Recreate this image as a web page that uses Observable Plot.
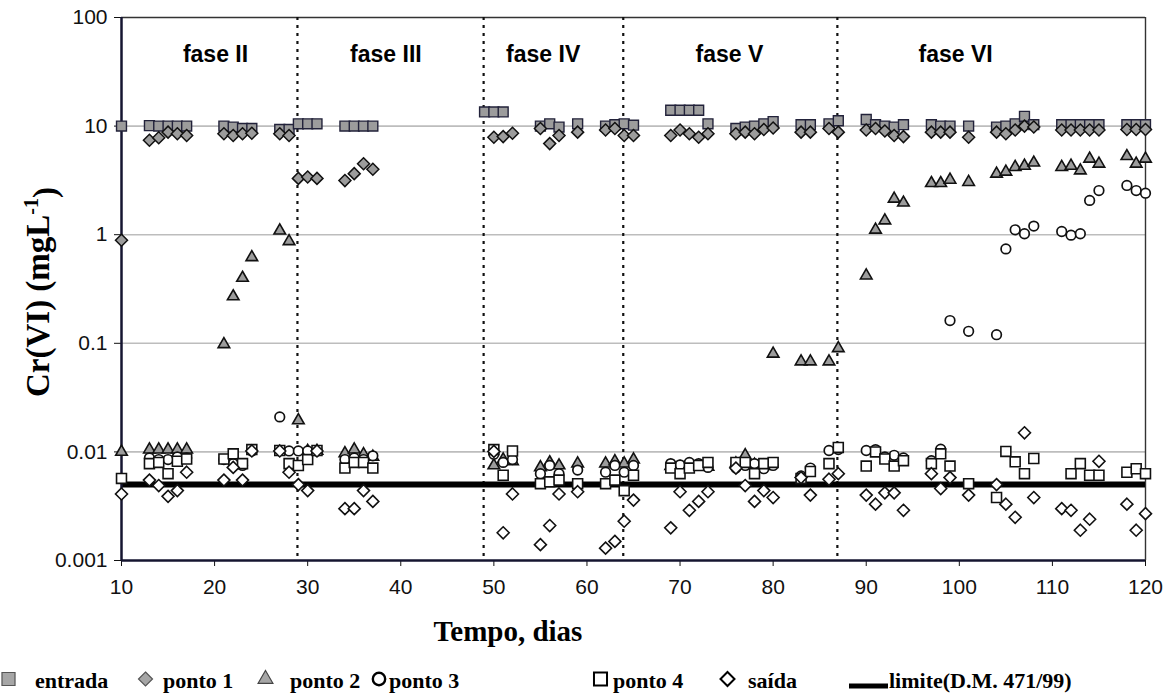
<!DOCTYPE html>
<html><head><meta charset="utf-8">
<script src="https://cdn.jsdelivr.net/npm/d3@7"></script>
<script src="https://cdn.jsdelivr.net/npm/@observablehq/plot@0.6"></script>
<style>
body{margin:0;background:#fff;}
#wrap{position:relative;width:1171px;height:697px;overflow:hidden;background:#fff;}
#chart{position:absolute;left:0;top:0;}
#legend{position:absolute;left:0;top:655px;}
</style></head>
<body><div id="wrap"><div id="chart"></div><svg id="legend" width="1171" height="42"></svg></div>
<script>
// ---- data ----
const entradaDays = [10,13,14,15,16,17,21,22,23,24,27,28,29,30,31,34,35,36,37,49,50,51,55,56,57,59,62,63,64,65,69,70,71,72,73,76,77,78,79,80,83,84,86,87,90,91,92,93,94,97,98,99,101,104,105,106,107,108,111,112,113,114,115,118,119,120];
const entradaValues = [10,10.1,10,10,10,10,10,9.8,9.5,9.5,9.3,9.3,10.5,10.5,10.5,10,10,10,10,13.5,13.5,13.5,10,10.5,9.8,10.5,10,10.3,10.5,10.2,14,14,14,14,10.5,9.5,9.8,10,10.5,11,10.3,10.3,10.5,11.2,11.5,10.3,10,9.8,10.3,10.3,10,10,10,9.8,10,10.5,12.3,10.3,10.3,10.3,10.3,10.3,10.3,10.3,10.3,10.3];

const ponto1Days = [10,13,14,15,16,17,21,22,23,24,27,28,29,30,31,34,35,36,37,50,51,52,55,56,57,59,62,63,64,65,69,70,71,72,73,76,77,78,79,80,83,84,86,87,90,91,92,93,94,97,98,99,101,104,105,106,107,108,111,112,113,114,115,118,119,120];
const ponto1Values = [0.89,7.4,7.8,8.8,8.5,8.2,8.5,8.2,8.5,8.6,8.5,8.2,3.3,3.4,3.3,3.15,3.65,4.5,4.0,7.9,8.0,8.6,9.5,6.9,8.2,8.8,9.2,9.5,8.2,8.2,8.2,9.2,8.5,7.9,8.5,8.5,8.8,8.5,9.3,9.6,8.8,8.8,9.5,8.8,9.2,9.5,9.0,8.2,8.0,8.8,8.8,8.8,7.9,8.8,8.5,9.2,10,9.8,9.2,9.2,9.2,9.2,9.2,9.3,9.3,9.3];

const ponto2Days = [10,13,14,15,16,17,21,22,23,24,27,28,29,30,31,34,35,36,37,50,51,52,55,56,57,59,62,63,64,65,69,70,71,72,73,76,77,78,79,80,83,84,86,87,90,91,92,93,94,97,98,99,101,104,105,106,107,108,111,112,113,114,115,118,119,120];
const ponto2Values = [0.01,0.0105,0.0105,0.0105,0.0105,0.0105,0.098,0.27,0.40,0.62,1.09,0.87,0.0195,0.0102,0.0102,0.0097,0.0105,0.0095,0.009,0.0075,0.0085,0.0082,0.0072,0.008,0.0075,0.0078,0.0078,0.0082,0.0078,0.0085,0.0074,0.0072,0.0075,0.0074,0.0073,0.0078,0.0093,0.0076,0.0074,0.08,0.068,0.068,0.068,0.09,0.42,1.11,1.35,2.14,1.97,2.98,2.98,3.2,3.05,3.64,3.8,4.19,4.3,4.6,4.19,4.3,3.9,5.0,4.5,5.28,4.5,5.0];

const ponto3Days = [13,14,15,16,17,21,22,23,24,27,28,29,30,31,34,35,36,37,50,51,52,55,56,57,59,62,63,64,65,69,70,71,72,73,76,77,78,79,80,83,84,86,87,90,91,92,93,94,97,98,99,101,104,105,106,107,108,111,112,113,114,115,118,119,120];
const ponto3Values = [0.0088,0.0085,0.0085,0.009,0.0088,0.0085,0.0078,0.0075,0.0102,0.021,0.0102,0.0102,0.0102,0.0102,0.0085,0.0088,0.0085,0.0092,0.0095,0.008,0.0085,0.0063,0.0075,0.0063,0.0068,0.0065,0.0075,0.0065,0.0075,0.0078,0.0076,0.008,0.0078,0.0072,0.0071,0.0075,0.0078,0.007,0.0075,0.006,0.0071,0.0103,0.0105,0.0103,0.0105,0.009,0.0093,0.0088,0.0083,0.0106,0.162,0.129,0.12,0.74,1.11,1.02,1.2,1.07,0.99,1.02,2.07,2.55,2.84,2.55,2.41];

const ponto4Days = [10,13,14,15,16,17,21,22,23,24,27,28,29,30,31,34,35,36,37,50,51,52,55,56,57,59,62,63,64,65,69,70,71,72,73,76,77,78,79,80,83,84,86,87,90,91,92,93,94,97,98,99,101,104,105,106,107,108,112,113,114,115,118,119,120];
const ponto4Values = [0.0057,0.0078,0.008,0.0063,0.0082,0.0086,0.0086,0.0096,0.0078,0.0105,0.0103,0.0078,0.0075,0.0085,0.0103,0.0071,0.008,0.008,0.0071,0.0105,0.0061,0.0102,0.0051,0.0053,0.0055,0.0051,0.0051,0.0055,0.0044,0.0061,0.0071,0.0063,0.0071,0.0075,0.008,0.008,0.008,0.0063,0.0078,0.008,0.0057,0.0066,0.0078,0.011,0.0074,0.01,0.0086,0.0074,0.0083,0.0078,0.0096,0.0074,0.0051,0.0038,0.0101,0.0081,0.0063,0.0087,0.0063,0.0078,0.0061,0.0061,0.0065,0.007,0.0063];

const saidaDays = [10,13,14,15,16,17,21,22,23,24,27,28,29,30,31,34,35,36,37,50,51,52,55,56,57,59,62,63,64,65,69,70,71,72,73,76,77,78,79,80,83,84,86,87,90,91,92,93,94,97,98,99,101,104,105,106,107,108,111,112,113,114,115,118,119,120];
const saidaValues = [0.0041,0.0055,0.0049,0.0039,0.0044,0.0065,0.0055,0.0072,0.0055,0.0102,0.0102,0.0065,0.005,0.0044,0.0102,0.003,0.003,0.0044,0.0035,0.0101,0.0018,0.0041,0.0014,0.0021,0.0041,0.0043,0.0013,0.0015,0.0023,0.0036,0.002,0.0043,0.0029,0.0035,0.0043,0.0071,0.0049,0.0035,0.0044,0.0038,0.0058,0.004,0.0056,0.0063,0.004,0.0033,0.0042,0.0042,0.0029,0.0063,0.0046,0.0058,0.004,0.005,0.0033,0.0025,0.015,0.0038,0.003,0.0029,0.0019,0.0024,0.0082,0.0033,0.0019,0.0027];

const limiteValue = 0.005;
const phaseNames = ["fase II","fase III","fase IV","fase V","fase VI"];
const phaseCenters = [20.1, 38.4, 55.3, 75.3, 99.6];
const phaseDividers = [28.9, 48.9, 63.9, 86.9];
const xTickValues = [10,20,30,40,50,60,70,80,90,100,110,120];
const yTickValues = [0.001,0.01,0.1,1,10,100];
const yTickLabels = ["0.001","0.01","0.1","1","10","100"];
const gridValues = [0.01,0.1,1,10];
const seriesNames = ["entrada","ponto 1","ponto 2","ponto 3","ponto 4","saída","limite(D.M. 471/99)"];

// ---- build ----
const rows = (ds, vs) => ds.map((d, i) => ({day: d, v: vs[i]}));
const phases = phaseNames.map((n, i) => ({name: n, x: phaseCenters[i]}));
const GRAY = "#9c9c9c", INK = "#111";

const plot = Plot.plot({
  width: 1171, height: 655,
  marginLeft: 121, marginRight: 26, marginTop: 17, marginBottom: 95,
  style: {background: "white", fontFamily: "'Liberation Sans', Arial, sans-serif", fontSize: "21px", color: "#111"},
  x: {domain: [10, 120], ticks: xTickValues, tickSize: 6, tickPadding: 13, label: null, tickFormat: d => String(d)},
  y: {type: "log", domain: [0.001, 100], ticks: yTickValues, tickSize: 7, tickPadding: 7, label: null,
      tickFormat: d => yTickLabels[yTickValues.indexOf(d)]},
  marks: [
    Plot.ruleY(gridValues, {stroke: "#bdbdbd", strokeWidth: 1.6}),
    Plot.ruleY([100], {stroke: "#333", strokeWidth: 1.6}),
    Plot.ruleX([120], {stroke: "#333", strokeWidth: 1.4}),
    Plot.ruleX(phaseDividers, {stroke: "#111", strokeWidth: 2.2, strokeDasharray: "3,5"}),
    Plot.ruleY([limiteValue], {stroke: "#000", strokeWidth: 6}),
    Plot.ruleX([10], {stroke: "#151530", strokeWidth: 2.5}),
    Plot.ruleY([0.001], {stroke: "#151530", strokeWidth: 2.5}),
    Plot.text(phases, {x: "x", y: () => 45.6, text: "name", fontSize: 23, fontWeight: "bold", fill: "#000"}),
    Plot.dot(rows(entradaDays, entradaValues), {x: "day", y: "v", symbol: "square", r: 5.6, fill: GRAY, stroke: "#22223a", strokeWidth: 1.4}),
    Plot.dot(rows(ponto1Days, ponto1Values), {x: "day", y: "v", symbol: "diamond2", r: 5.4, fill: GRAY, stroke: INK, strokeWidth: 1.5}),
    Plot.dot(rows(ponto2Days, ponto2Values), {x: "day", y: "v", symbol: "triangle", r: 4.3, fill: GRAY, stroke: INK, strokeWidth: 1.6}),
    Plot.dot(rows(ponto3Days, ponto3Values), {x: "day", y: "v", symbol: "circle", r: 4.8, fill: "white", stroke: INK, strokeWidth: 1.7}),
    Plot.dot(rows(ponto4Days, ponto4Values), {x: "day", y: "v", symbol: "square", r: 5.6, fill: "white", stroke: INK, strokeWidth: 1.6}),
    Plot.dot(rows(saidaDays, saidaValues), {x: "day", y: "v", symbol: "diamond2", r: 5.4, fill: "white", stroke: INK, strokeWidth: 1.6})
  ]
});
document.getElementById("chart").appendChild(plot);

// axis titles
const s = d3.select(plot);
s.append("text").attr("x", 508).attr("y", 641).attr("text-anchor", "middle")
  .style("font-family", "'Liberation Serif','Times New Roman',serif").style("font-weight", "bold").style("font-size", "29px").attr("fill", "#000")
  .text("Tempo, dias");
const yl = s.append("text").attr("transform", "translate(49,292) rotate(-90)").attr("text-anchor", "middle")
  .style("font-family", "'Liberation Serif','Times New Roman',serif").style("font-weight", "bold").style("font-size", "33px").attr("fill", "#000");
yl.append("tspan").text("Cr(VI) (mgL");
yl.append("tspan").attr("dy", "-0.55em").style("font-size", "20px").text("-1");
yl.append("tspan").attr("dy", "0.55em").text(")");

// legend
const lg = d3.select("#legend");
const cy = 26;
const sym = (type, size) => d3.symbol(type, size)();
const items = [
  {x: 8.5, type: d3.symbolSquare, size: 170, fill: "#a6a6a6", stroke: "#555", sw: 1.2, tx: 35},
  {x: 145.5, type: d3.symbolDiamond2, size: 125, fill: "#a6a6a6", stroke: "#555", sw: 1.2, tx: 163},
  {x: 265.5, type: d3.symbolTriangle, size: 95, fill: "#a6a6a6", stroke: "#444", sw: 1.2, tx: 290},
  {x: 379, type: d3.symbolCircle, size: 120, fill: "white", stroke: "#000", sw: 2.4, tx: 389},
  {x: 600.5, type: d3.symbolSquare, size: 170, fill: "white", stroke: "#000", sw: 2, tx: 613},
  {x: 727.5, type: d3.symbolDiamond2, size: 125, fill: "white", stroke: "#000", sw: 2, tx: 748}
];
items.forEach((it, i) => {
  lg.append("path").attr("d", sym(it.type, it.size)).attr("transform", `translate(${it.x},${cy - 2})`)
    .attr("fill", it.fill).attr("stroke", it.stroke).attr("stroke-width", it.sw);
  lg.append("text").attr("x", it.tx).attr("y", cy + 7).text(seriesNames[i])
    .style("font-family", "'Liberation Serif','Times New Roman',serif").style("font-weight", "bold").style("font-size", "22px").attr("fill", "#000");
});
lg.append("line").attr("x1", 849).attr("x2", 888).attr("y1", cy + 5).attr("y2", cy + 5).attr("stroke", "#000").attr("stroke-width", 5);
lg.append("text").attr("x", 889).attr("y", cy + 7).text(seriesNames[6])
  .style("font-family", "'Liberation Serif','Times New Roman',serif").style("font-weight", "bold").style("font-size", "22px").attr("fill", "#000");
</script></body></html>
